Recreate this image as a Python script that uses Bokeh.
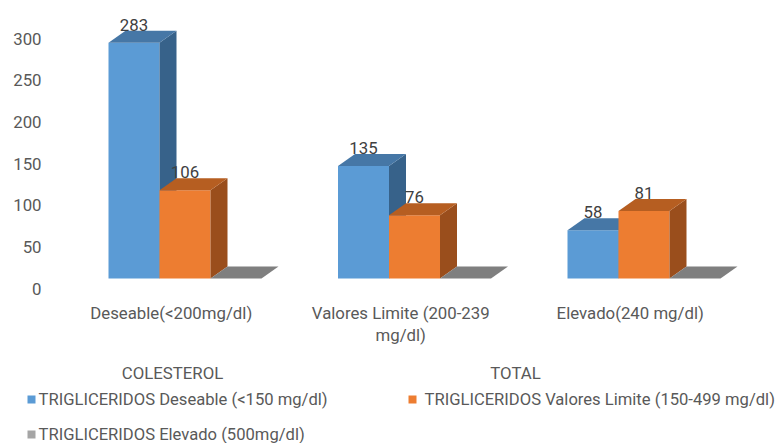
from bokeh.plotting import figure
from bokeh.models import Range1d, ColumnDataSource
from bokeh.core.properties import value
from bokeh.embed import file_html
from bokeh.resources import INLINE

# ---- data -------------------------------------------------------------
categories = ["Deseable(<200mg/dl)", "Valores Limite (200-239\nmg/dl)", "Elevado(240 mg/dl)"]
series_names = [
    "TRIGLICERIDOS Deseable (<150 mg/dl)",
    "TRIGLICERIDOS Valores Limite  (150-499 mg/dl)",
    "TRIGLICERIDOS Elevado (500mg/dl)",
]
deseable = [283, 135, 58]
valores_limite = [106, 76, 81]
elevado = [0, 0, 0]
y_ticks = [0, 50, 100, 150, 200, 250, 300]
axis_title_parts = ["COLESTEROL", "TOTAL"]

# ---- styling ----------------------------------------------------------
FONT = "Roboto"
FS = "16.8px"
FS_LEGEND = "16.6px"
TEXT_GRAY = "#595959"
front_colors = ["#5B9BD5", "#ED7D31", "#A5A5A5"]
top_colors = ["#4677A6", "#B65E21", "#7F7F7F"]
side_colors = ["#37628A", "#9A4E1C", "#6E6E6E"]

W, H = 784, 443
PX_X = 229.5              # pixels per category step
X0_PX = 184.5             # pixel column of the first category centre
PX_Y = 250 / 300          # pixels per value unit
Y0_PX = 278               # pixel row of the bar floor (from top)
WALL_Y0_PX = 288          # pixel row of the value axis zero (back wall)

def xd(px):
    return (px - X0_PX) / PX_X

def yd(px):
    return (Y0_PX - px) / PX_Y

bw = 51 / PX_X            # bar width in data units
ddx = 17 / PX_X           # 3-D depth, horizontal
ddy = 12 / PX_Y           # 3-D depth, vertical

p = figure(
    width=W, height=H, output_backend="svg", toolbar_location=None,
    x_range=Range1d(xd(0), xd(W)), y_range=Range1d(yd(H), yd(0)),
    x_axis_location=None, y_axis_location=None,
    min_border_left=0, min_border_right=0, min_border_top=0, min_border_bottom=0,
)
p.outline_line_color = None
p.xgrid.visible = False
p.ygrid.visible = False
p.background_fill_color = "white"
p.border_fill_color = "white"

# value-axis labels, drawn on the back wall (slightly below the front floor)
wall_shift = (WALL_Y0_PX - Y0_PX) / PX_Y
p.text(x=[xd(41)] * len(y_ticks), y=[t - wall_shift for t in y_ticks],
       text=[str(t) for t in y_ticks], text_align="right", text_baseline="middle",
       text_font=value(FONT), text_font_size=FS, text_color=TEXT_GRAY)

# ---- 3-D columns ------------------------------------------------------
all_series = [deseable, valores_limite, elevado]
for s, vals in enumerate(all_series):
    for i, v in enumerate(vals):
        left = i + (s - 1) * bw - bw / 2
        right = left + bw
        if v > 0:
            p.quad(left=[left], right=[right], bottom=[0], top=[v],
                   fill_color=front_colors[s], line_color=None)
            p.patch([right, right, right + ddx, right + ddx], [0, v, v + ddy, ddy],
                    fill_color=side_colors[s], line_color=None)
        p.patch([left, left + ddx, right + ddx, right], [v, v + ddy, v + ddy, v],
                fill_color=top_colors[s], line_color=None)

# value labels above each non-empty column
lab_x, lab_y, lab_t = [], [], []
for s, vals in enumerate(all_series):
    for i, v in enumerate(vals):
        if v > 0:
            lab_x.append(i + (s - 1) * bw)
            lab_y.append(v + ddy)
            lab_t.append(str(v))
p.text(x=lab_x, y=lab_y, text=lab_t, text_align="center", text_baseline="bottom",
       text_font=value(FONT), text_font_size=FS, text_color="#404040")

# category labels
cat_src = ColumnDataSource(dict(x=[i - 0.06 for i in range(len(categories))],
                                y=[yd(302)] * len(categories), t=categories))
p.text(x="x", y="y", text="t", source=cat_src, text_align="center", text_baseline="top",
       text_font=value(FONT), text_font_size=FS, text_color=TEXT_GRAY, text_line_height=1.1)

# axis title, split across the width
p.text(x=[xd(172), xd(515)], y=[yd(372)] * 2, text=axis_title_parts,
       text_align="center", text_baseline="middle",
       text_font=value(FONT), text_font_size=FS, text_color=TEXT_GRAY)

# legend
leg_sq_x = [xd(31), xd(412), xd(31)]
leg_tx_x = [xd(38), xd(424), xd(38)]
leg_y = [yd(399), yd(399), yd(434)]
p.scatter(x=leg_sq_x, y=leg_y, marker="square", size=8, fill_color=front_colors,
          line_color=None)
p.text(x=leg_tx_x, y=leg_y, text=series_names, text_align="left", text_baseline="middle",
       text_font=value(FONT), text_font_size=FS_LEGEND, text_color=TEXT_GRAY)

open("out.html", "w").write(file_html(p, INLINE))
